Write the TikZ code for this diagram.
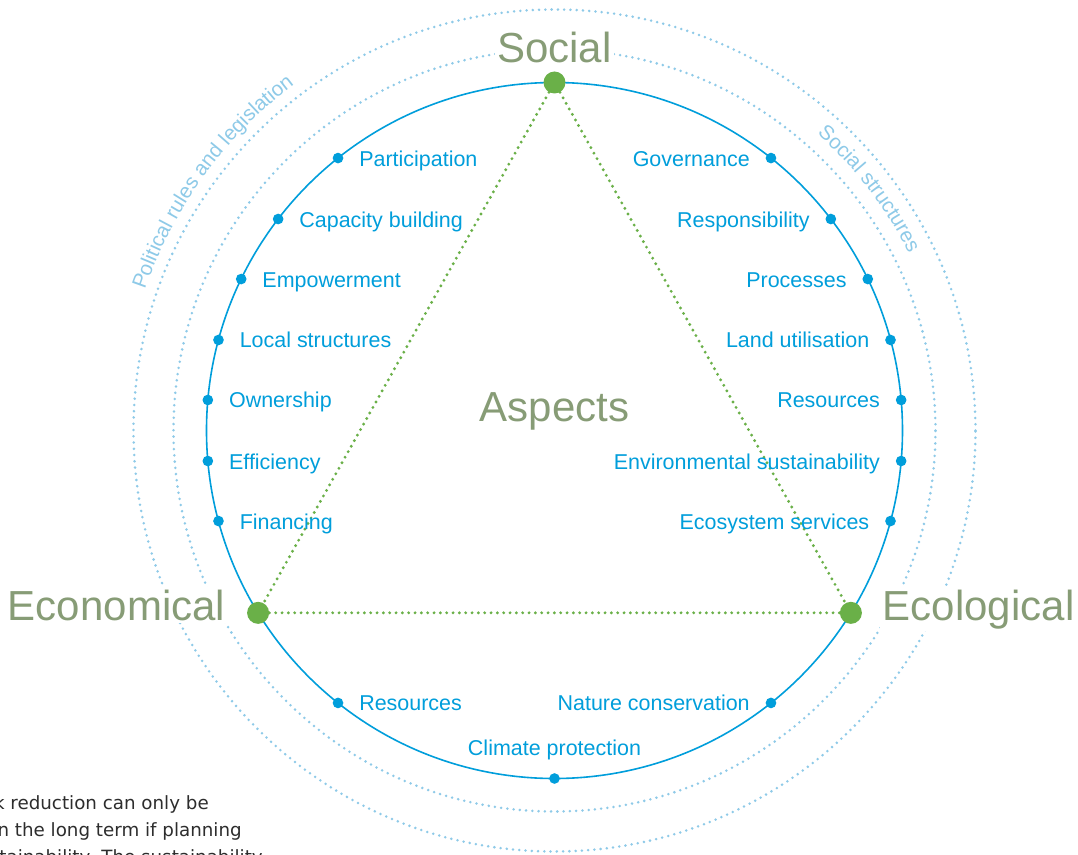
\documentclass[tikz,border=0pt]{standalone}
\usepackage{fontspec}
\setmainfont{Liberation Sans}
\newfontfamily\notefont{DejaVu Sans}
\usetikzlibrary{decorations.text}

\definecolor{ringblue}{RGB}{0,158,219}
\definecolor{haloblue}{RGB}{142,202,232}
\definecolor{leafgreen}{RGB}{106,176,72}
\definecolor{sagegray}{RGB}{135,156,118}
\definecolor{notegray}{RGB}{45,45,45}

\newcommand\halotextfont{\fontsize{15.4pt}{18pt}\selectfont}

\begin{document}
\begin{tikzpicture}[x=0.75pt, y=0.75pt,
  ring/.style={draw=ringblue, line width=1.2pt},
  halo/.style={draw=haloblue, line width=2.1pt, line cap=round, dash pattern=on 0pt off 4.7pt},
  tie/.style={draw=leafgreen, line width=2.4pt, line cap=round, dash pattern=on 0pt off 4.75pt},
  pin/.style={circle, fill=ringblue, inner sep=0pt, minimum size=8pt},
  hub/.style={circle, fill=leafgreen, inner sep=0pt, minimum size=16.5pt},
  lefttag/.style={anchor=base west, inner sep=0pt, text=ringblue, font=\fontsize{16.1pt}{19pt}\selectfont},
  righttag/.style={lefttag, anchor=base east},
  midtag/.style={lefttag, anchor=base},
  pillar/.style={text=sagegray, font=\fontsize{31.5pt}{36pt}\selectfont, fill=white, inner sep=2pt},
  note/.style={anchor=base east, inner sep=0pt, text=notegray, font=\notefont\fontsize{13.7pt}{20pt}\selectfont},
]
% canvas
\fill[white] (-554.5,-423.5) rectangle (523.5,430.5);
\useasboundingbox (-554.5,-423.5) rectangle (523.5,430.5);
\clip (-554.5,-423.5) rectangle (523.5,430.5);

\coordinate (o) at (0,0);

% outer framework rings
\draw[halo] (o) circle[radius=421];
\draw[halo] (o) circle[radius=381];

% framework captions set along the rings
\path[decorate, decoration={text along path, text align=center, text color=haloblue,
      text={|\halotextfont|Political rules and legislation}}]
  (184:433) arc[start angle=184, end angle=104, radius=433];
\path[decorate, decoration={text along path, text align=center, text color=haloblue,
      text={|\halotextfont|Social structures}}]
  (77.5:396) arc[start angle=77.5, end angle=-2.5, radius=396];

% main ring
\draw[ring] (o) circle[radius=348];

% the three pillars
\node[hub] (soc) at (90:348) {};
\node[hub] (eco) at (211.6:348) {};
\node[hub] (ecl) at (-31.6:348) {};
\draw[tie] (soc) -- (eco);
\draw[tie] (soc) -- (ecl);
\draw[tie] (eco) -- (ecl);

% aspects on the left half
\foreach \ang/\id/\txt in {128.47/pa/Participation, 142.57/ca/Capacity building,
    154.2/em/Empowerment, 164.92/lo/Local structures, 174.97/ow/Ownership,
    185.03/ef/Efficiency, 195.08/fi/Financing, 231.53/rb/Resources}{
  \node[pin] (d\id) at (\ang:348) {};
  \node[lefttag] (t\id) at ([shift={(21,-8)}]d\id.center) {\txt};
}

% aspects on the right half
\foreach \ang/\id/\txt in {51.53/go/Governance, 37.43/re/Responsibility,
    25.8/pr/Processes, 15.08/la/Land utilisation, 5.03/rs/Resources,
    -5.03/en/Environmental sustainability, -15.08/es/Ecosystem services,
    -51.53/na/Nature conservation}{
  \node[pin] (d\id) at (\ang:348) {};
  \node[righttag] (t\id) at ([shift={(-21,-8)}]d\id.center) {\txt};
}

% bottom aspect
\node[pin] (dcl) at (270:348) {};
\node[midtag] (tcl) at ([shift={(0,23.5)}]dcl.center) {Climate protection};

% pillar titles
\node[pillar, anchor=base] (lsoc) at (0,367.5) {Social};
\node[pillar, anchor=base east] (leco) at (-326.5,-189.5) {Economical};
\node[pillar, anchor=base west] (lecl) at (325.5,-189.5) {Ecological};
\node[pillar, anchor=base] (lasp) at (0,9.5) {Aspects};

% running text below the figure
\node[note] (n1) at (-345.5,-378.5) {k reduction can only be};
\node[note] (n2) at (-312.5,-405.5) {n the long term if planning};
\node[note] (n3) at (-291.5,-432.5) {stainability. The sustainability};
\end{tikzpicture}
\end{document}
